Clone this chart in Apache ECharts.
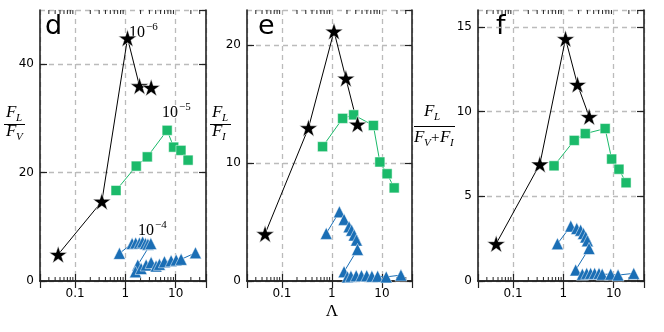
<!DOCTYPE html>
<html>
<head>
<meta charset="utf-8">
<script src="https://cdn.jsdelivr.net/npm/echarts@6/dist/echarts.min.js"></script>
<style>
  html, body { margin: 0; padding: 0; background: #fff; }
  #chart { width: 664px; height: 332px; }
</style>
</head>
<body>
<div id="chart"></div>
<script>
// x ticks (log axis)
var xTickLabels = [0.1, 1, 10];
var minorTicks = [0.03, 0.04, 0.05, 0.06, 0.07, 0.08, 0.09, 0.2, 0.3, 0.4, 0.5, 0.6, 0.7, 0.8, 0.9,
    2, 3, 4, 5, 6, 7, 8, 9, 20, 30];

// stars (10^-6)
var xStar = [0.046, 0.34, 1.1, 1.9, 3.25];
var starD = [4.9, 14.7, 44.8, 36.0, 35.7];
var starE = [4.0, 13.0, 21.2, 17.2, 13.3];
var starF = [2.2, 6.9, 14.3, 11.6, 9.7];

// squares (10^-5)
var xSquare = [0.65, 1.64, 2.72, 6.75, 9.1, 12.7, 17.6];
var squareD = [16.7, 21.2, 22.9, 27.8, 24.7, 24.1, 22.3];
var squareE = [11.4, 13.8, 14.1, 13.2, 10.1, 9.1, 7.9];
var squareF = [6.8, 8.3, 8.7, 9.0, 7.2, 6.6, 5.8];

// triangles (10^-4)
var xTriD = [0.76, 1.36, 1.6, 1.9, 2.2, 2.5, 2.8, 3.2, 1.76, 1.58, 2.05, 2.58, 3.24, 4.07, 4.74, 5.96, 8.1, 10.2, 12.8, 24.7];
var triD = [5.1, 6.9, 7.0, 7.0, 7.2, 6.9, 6.8, 6.9, 2.95, 1.7, 2.3, 2.95, 3.4, 2.76, 3.07, 3.55, 3.74, 3.87, 4.0, 5.2];
var xTriE = [0.77, 1.41, 1.75, 2.2, 2.48, 2.79, 3.1, 3.25, 1.75, 2.05, 2.4, 3.06, 3.9, 4.97, 6.3, 8.2, 12.2, 24];
var triE = [4.04, 5.87, 5.23, 4.6, 4.3, 3.9, 3.47, 2.68, 0.79, 0.35, 0.4, 0.45, 0.45, 0.45, 0.4, 0.4, 0.35, 0.5];
var xTriF = [0.76, 1.4, 1.84, 2.2, 2.5, 2.77, 3.0, 3.23, 1.75, 2.38, 2.9, 3.47, 4.17, 5.1, 5.9, 8.7, 12.2, 25];
var triF = [2.2, 3.24, 3.1, 3.0, 2.8, 2.6, 2.37, 1.92, 0.65, 0.4, 0.45, 0.45, 0.45, 0.45, 0.4, 0.4, 0.35, 0.45];

// y axis ranges per panel
var yMaxes = [50, 23, 16];
var yIntervals = [20, 10, 5];

var BLACK = '#000000';
var GREEN = '#1bba6a';
var BLUE = '#1a6eb5';
var FRAME = '#222222';

function zip(xs, ys) {
    return xs.map(function (x, i) { return [x, ys[i]]; });
}

// star symbol path
function starPath() {
    var pts = [];
    for (var k = 0; k < 10; k++) {
        var r = k % 2 === 0 ? 50 : 19.1;
        var a = (-90 + 36 * k) * Math.PI / 180;
        pts.push((50 + r * Math.cos(a)).toFixed(2) + ',' + (50 + r * Math.sin(a)).toFixed(2));
    }
    return 'path://M' + pts.join('L') + 'Z';
}
var STAR = starPath();

var grids = [
    { left: 40, top: 10, width: 166, height: 271 },
    { left: 247, top: 10, width: 165, height: 271 },
    { left: 478, top: 10, width: 166, height: 271 }
];

function logLabel(v) {
    for (var i = 0; i < xTickLabels.length; i++) {
        if (Math.abs(v - xTickLabels[i]) / xTickLabels[i] < 1e-6) return String(xTickLabels[i]);
    }
    return '';
}

var xAxes = [], yAxes = [], series = [];
grids.forEach(function (g, i) {
    var common = {
        type: 'log', logBase: 10, min: 0.02, max: 40, gridIndex: i,
        axisLine: { lineStyle: { color: FRAME, width: 1.6 } },
        axisTick: { inside: true, length: 7, lineStyle: { color: FRAME, width: 1.2 } },
        splitLine: { show: false }
    };
    xAxes.push(Object.assign({}, common, {
        position: 'bottom',
        axisLabel: { formatter: logLabel, color: '#000', fontSize: 12, fontFamily: 'DejaVu Sans', margin: 7 },
        splitLine: { show: true, lineStyle: { color: '#bbbbbb', type: [5, 4], width: 1.3 } }
    }));
    xAxes.push(Object.assign({}, common, {
        position: 'top',
        axisLabel: { show: false }
    }));
    var yCommon = {
        type: 'value', min: 0, max: yMaxes[i], interval: yIntervals[i], gridIndex: i,
        axisLine: { show: true, lineStyle: { color: FRAME, width: 1.6 } },
        axisTick: { show: true, inside: true, length: 7, lineStyle: { color: FRAME, width: 1.2 } },
        splitLine: { show: false }
    };
    yAxes.push(Object.assign({}, yCommon, {
        position: 'left',
        axisLabel: {
            color: '#000', fontSize: 12, fontFamily: 'DejaVu Sans', margin: 6,
            showMaxLabel: false
        },
        splitLine: { show: true, lineStyle: { color: '#bbbbbb', type: [5, 4], width: 1.3 } }
    }));
    yAxes.push(Object.assign({}, yCommon, {
        position: 'right',
        axisLabel: { show: false }
    }));

    // minor ticks on the log axes, drawn at top and bottom edges
    series.push({
        type: 'custom',
        xAxisIndex: 2 * i, yAxisIndex: 2 * i,
        silent: true,
        clip: false,
        data: minorTicks.map(function (v) { return [v]; }),
        renderItem: (function (ymax) {
            return function (params, api) {
                var b = api.coord([api.value(0), 0]);
                var t = api.coord([api.value(0), ymax]);
                var st = { stroke: FRAME, lineWidth: 1 };
                return {
                    type: 'group',
                    children: [
                        { type: 'line', shape: { x1: b[0], y1: b[1], x2: b[0], y2: b[1] - 4 }, style: st },
                        { type: 'line', shape: { x1: t[0], y1: t[1], x2: t[0], y2: t[1] + 4 }, style: st }
                    ]
                };
            };
        })(yMaxes[i])
    });
});

var starSets = [starD, starE, starF];
var squareSets = [squareD, squareE, squareF];
var triX = [xTriD, xTriE, xTriF];
var triSets = [triD, triE, triF];

for (var i = 0; i < 3; i++) {
    series.push({
        type: 'line', xAxisIndex: 2 * i, yAxisIndex: 2 * i,
        data: zip(triX[i], triSets[i]),
        symbol: 'triangle', symbolSize: 12,
        lineStyle: { color: BLUE, width: 1 },
        itemStyle: { color: BLUE, borderColor: '#ffffff', borderWidth: 0.5 }
    });
    series.push({
        type: 'line', xAxisIndex: 2 * i, yAxisIndex: 2 * i,
        data: zip(xSquare, squareSets[i]),
        symbol: 'rect', symbolSize: 10,
        lineStyle: { color: GREEN, width: 1 },
        itemStyle: { color: GREEN, borderColor: '#ffffff', borderWidth: 0.5 }
    });
    series.push({
        type: 'line', xAxisIndex: 2 * i, yAxisIndex: 2 * i,
        data: zip(xStar, starSets[i]),
        symbol: STAR, symbolSize: 18, symbolKeepAspect: true,
        lineStyle: { color: BLACK, width: 1 },
        itemStyle: { color: BLACK, borderColor: '#ffffff', borderWidth: 0.5 }
    });
}

// text helpers
var SERIF = 'Liberation Serif';
function txt(x, y, s, size, extra) {
    return {
        type: 'text', x: x, y: y, silent: true,
        style: Object.assign({
            text: s, fontSize: size, fontFamily: SERIF, fill: '#000',
            verticalAlign: 'middle', align: 'left'
        }, extra || {})
    };
}
function italic(x, y, s, size) {
    return txt(x, y, s, size, { fontStyle: 'italic' });
}
function bar(x1, x2, y) {
    return { type: 'line', silent: true, shape: { x1: x1, y1: y, x2: x2, y2: y }, style: { stroke: '#000', lineWidth: 1 } };
}
function power(x, y, exp) {
    return [txt(x, y, '10', 16), txt(x + 17, y - 6, '\u2212' + exp, 11)];
}
function letter(x, s) {
    return txt(x, 27, s, 27, { fontFamily: 'DejaVu Sans' });
}

var graphics = [];
// panel d: F_L / F_V
graphics.push(italic(6, 113, 'F', 17), italic(16, 118, 'L', 11), bar(4, 25, 124.5), italic(6, 132, 'F', 17), italic(16, 137, 'V', 11));
// panel e: F_L / F_I
graphics.push(italic(212, 113, 'F', 17), italic(222, 118, 'L', 11), bar(210, 231, 124.5), italic(212, 132, 'F', 17), italic(222, 137, 'I', 11));
// panel f: F_L / (F_V + F_I)
graphics.push(italic(424, 112, 'F', 17), italic(434, 117, 'L', 11), bar(414, 455, 126.5),
    italic(414, 138, 'F', 17), italic(424, 143, 'V', 11), txt(431, 138, '+', 15),
    italic(440, 138, 'F', 17), italic(450, 143, 'I', 11));
// series annotations
graphics = graphics.concat(power(129, 33, '6'), power(162, 113, '5'), power(138, 231, '4'));
// panel letters
graphics.push(letter(45, 'd'), letter(258, 'e'), letter(496, 'f'));
// x axis title
graphics.push(txt(332, 312, '\u039b', 17, { align: 'center' }));

var chart = echarts.init(document.getElementById('chart'), null, { renderer: 'canvas' });
var option = {
    animation: false,
    backgroundColor: '#ffffff',
    grid: grids,
    xAxis: xAxes,
    yAxis: yAxes,
    series: series,
    graphic: graphics
};
chart.setOption(option);
</script>
</body>
</html>
